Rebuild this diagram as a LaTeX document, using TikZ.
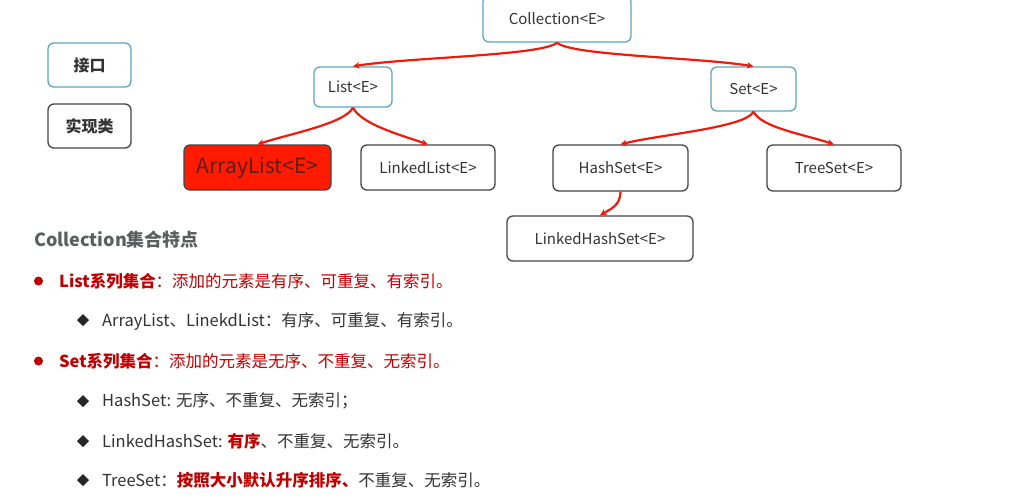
\documentclass[tikz,border=0pt]{standalone}
\usepackage{fontspec}
\setmainfont{Noto Sans CJK SC}
\usetikzlibrary{arrows.meta}
\definecolor{ifblue}{HTML}{5BA6C2}
\definecolor{clsgray}{HTML}{454545}
\definecolor{txtgray}{HTML}{333333}
\definecolor{edgered}{HTML}{F01A0A}
\definecolor{boxred}{HTML}{FF1A00}
\definecolor{darkred}{HTML}{C00000}
\definecolor{titlegray}{HTML}{5A5F5F}
\definecolor{altext}{HTML}{5A1E18}
\tikzset{
  box/.style={rectangle, rounded corners=6pt, line width=1.3pt, inner sep=0pt,
    text=txtgray, font=\fontsize{15}{18}\selectfont, fill=white},
  ifbox/.style={box, draw=ifblue},
  clsbox/.style={box, draw=clsgray},
  edge/.style={draw=edgered, line width=2.2pt, -{Stealth[length=6.5pt,width=6.5pt]}},
  item/.style={anchor=west, inner sep=0pt, text=txtgray, font=\fontsize{16.5}{19}\selectfont},
  redtxt/.style={item, text=darkred},
}
\begin{document}
\begin{tikzpicture}[x=1pt,y=-1pt]
\useasboundingbox[fill=white] (0,0) rectangle (1025,499);
% legend
\node[ifbox, minimum width=83pt, minimum height=44pt, font=\fontsize{16}{18}\selectfont\bfseries] (legif) at (89.5,65) {接口};
\node[clsbox, minimum width=83pt, minimum height=44pt, font=\fontsize{16}{18}\selectfont\bfseries] (legcls) at (89.5,126) {实现类};
% tree
\node[ifbox, minimum width=148pt, minimum height=46pt] (coll) at (557,19) {Collection<E>};
\node[ifbox, minimum width=78pt, minimum height=40pt] (list) at (353,87) {List<E>};
\node[ifbox, minimum width=85pt, minimum height=44pt] (set) at (753.5,89) {Set<E>};
\node[clsbox, fill=boxred, minimum width=147pt, minimum height=45pt, text=altext, font=\fontsize{21}{24}\selectfont] (alist) at (257.5,167.5) {ArrayList<E>};
\node[clsbox, minimum width=134pt, minimum height=45pt] (llist) at (428,167.5) {LinkedList<E>};
\node[clsbox, minimum width=135pt, minimum height=46pt] (hset) at (620.5,168) {HashSet<E>};
\node[clsbox, minimum width=134pt, minimum height=46pt] (tset) at (834,168) {TreeSet<E>};
\node[clsbox, minimum width=186pt, minimum height=45pt] (lhset) at (600,238.5) {LinkedHashSet<E>};
% edges
\draw[edge] (coll.south) .. controls +(-14,13) and +(55,-9) .. (list.north);
\draw[edge] (coll.south) .. controls +(14,13) and +(-55,-9) .. (set.north);
\draw[edge] (list.south) .. controls +(-8,16) and +(30,-10) .. (alist.north);
\draw[edge] (list.south) .. controls +(8,16) and +(-30,-10) .. (llist.north);
\draw[edge] (set.south) .. controls +(-8,16) and +(40,-10) .. (hset.north);
\draw[edge] (set.south) .. controls +(8,16) and +(-30,-10) .. (tset.north);
\draw[edge] (hset.south) .. controls +(0,14) and +(10,-6) .. (lhset.north);
% features
\node[anchor=west, inner sep=0pt, text=titlegray, font=\fontsize{18}{21}\selectfont\bfseries] (title) at (34,240) {Collection集合特点};
\fill[darkred] (38.5,281) circle (4.5pt);
\node[redtxt] (l1) at (59,281) {\textbf{List系列集合}：添加的元素是有序、可重复、有索引。};
\fill[black!85] (83,314) -- (89,320) -- (83,326) -- (77,320) -- cycle;
\node[item] (l2) at (102,321) {ArrayList、LinekdList：有序、可重复、有索引。};
\fill[darkred] (38.5,361) circle (4.5pt);
\node[redtxt] (l3) at (59,361) {\textbf{Set系列集合}：添加的元素是无序、不重复、无索引。};
\fill[black!85] (83,395) -- (89,401) -- (83,407) -- (77,401) -- cycle;
\node[item] (l4) at (102,401) {HashSet: 无序、不重复、无索引；};
\fill[black!85] (83,435) -- (89,441) -- (83,447) -- (77,441) -- cycle;
\node[item] (l5) at (102,441) {LinkedHashSet: \textcolor{darkred}{\textbf{有序}}、不重复、无索引。};
\fill[black!85] (83,474) -- (89,480) -- (83,486) -- (77,480) -- cycle;
\node[item] (l6) at (102,480) {TreeSet：\textcolor{darkred}{\textbf{按照大小默认升序排序、}}不重复、无索引。};
\end{tikzpicture}
\end{document}
